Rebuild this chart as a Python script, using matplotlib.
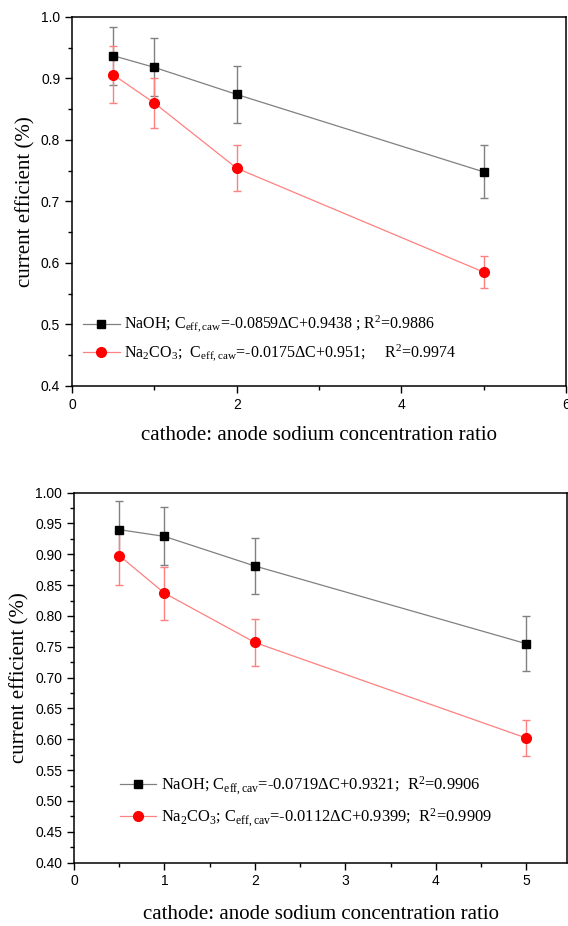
import numpy as np
import matplotlib.pyplot as plt
from matplotlib.ticker import MultipleLocator, FormatStrFormatter

# --- dados ---
ratio = [0.5, 1, 2, 5]

# painel superior
naoh_top = [0.937, 0.918, 0.874, 0.748]
naoh_top_err = [0.047, 0.047, 0.046, 0.043]
na2co3_top = [0.906, 0.860, 0.754, 0.585]
na2co3_top_err = [0.046, 0.041, 0.037, 0.026]

# painel inferior
naoh_bot = [0.940, 0.929, 0.881, 0.755]
naoh_bot_err = [0.047, 0.047, 0.045, 0.045]
na2co3_bot = [0.898, 0.837, 0.757, 0.602]
na2co3_bot_err = [0.047, 0.043, 0.038, 0.029]

labels_top = [
    r"NaOH; C$_{\mathregular{eff,caw}}$=-0.0859ΔC+0.9438 ; R$^{\mathregular{2}}$=0.9886",
    r"Na$_{\mathregular{2}}$CO$_{\mathregular{3}}$;  C$_{\mathregular{eff,caw}}$=-0.0175ΔC+0.951;     R$^{\mathregular{2}}$=0.9974",
]
labels_bot = [
    r"NaOH; C$_{\mathregular{eff,cav}}$=-0.0719ΔC+0.9321;  R$^{\mathregular{2}}$=0.9906",
    r"Na$_{\mathregular{2}}$CO$_{\mathregular{3}}$; C$_{\mathregular{eff,cav}}$=-0.0112ΔC+0.9399;  R$^{\mathregular{2}}$=0.9909",
]

serif = "Liberation Serif"
sans = "Liberation Sans"
plt.rcParams['mathtext.fontset'] = 'custom'
plt.rcParams['mathtext.rm'] = serif
plt.rcParams['mathtext.it'] = serif + ':italic'

fig = plt.figure(figsize=(5.68, 9.26), dpi=100)
ax1 = fig.add_axes([0.1268, 0.5832, 0.870, 0.3985])
ax2 = fig.add_axes([0.1303, 0.0684, 0.868, 0.3996])


def draw(ax, y1, e1, y2, e2):
    c1 = ax.errorbar(ratio, y1, yerr=e1, color='#808080', lw=0.9, ecolor='#808080',
                     elinewidth=1.0, capsize=3, capthick=1.0, marker='s', ms=5.5,
                     mfc='black', mec='black')
    c2 = ax.errorbar(ratio, y2, yerr=e2, color='#ff8080', lw=0.9, ecolor='#ff8080',
                     elinewidth=1.0, capsize=3, capthick=1.0, marker='o', ms=7,
                     mfc='red', mec='red')
    ax.set_ylim(0.4, 1.0)
    ax.tick_params(which='both', direction='out', top=False, right=False)
    ax.tick_params(which='major', length=5, width=1)
    ax.tick_params(which='minor', length=3, width=1)
    for s in ax.spines.values():
        s.set_linewidth(1.1)
    ax.set_ylabel("current efficient (%)", fontfamily=serif, fontsize=15)
    ax.set_xlabel("cathode: anode sodium concentration ratio", fontfamily=serif,
                  fontsize=15)
    return [c1[0], c2[0]]


h = draw(ax1, naoh_top, naoh_top_err, na2co3_top, na2co3_top_err)
ax1.set_xlim(0, 6)
ax1.xaxis.set_major_locator(MultipleLocator(2))
ax1.xaxis.set_minor_locator(MultipleLocator(1))
ax1.yaxis.set_major_locator(MultipleLocator(0.1))
ax1.yaxis.set_minor_locator(MultipleLocator(0.05))
ax1.yaxis.set_major_formatter(FormatStrFormatter('%.1f'))
for t in ax1.get_xticklabels() + ax1.get_yticklabels():
    t.set_fontfamily(sans)
    t.set_fontsize(10)
ax1.legend(h, labels_top, loc='center left', bbox_to_anchor=(0.022, 0.127),
           frameon=False, prop={'family': serif, 'size': 11.5}, handlelength=2.3,
           handletextpad=0.3, labelspacing=0.47, borderpad=0, borderaxespad=0)
ax1.xaxis.labelpad = 10

h = draw(ax2, naoh_bot, naoh_bot_err, na2co3_bot, na2co3_bot_err)
ax2.set_xlim(0, 5.45)
ax2.xaxis.set_major_locator(MultipleLocator(1))
ax2.xaxis.set_minor_locator(MultipleLocator(0.5))
ax2.yaxis.set_major_locator(MultipleLocator(0.05))
ax2.yaxis.set_minor_locator(MultipleLocator(0.025))
ax2.yaxis.set_major_formatter(FormatStrFormatter('%.2f'))
for t in ax2.get_xticklabels() + ax2.get_yticklabels():
    t.set_fontfamily(sans)
    t.set_fontsize(10)
ax2.legend(h, labels_bot, loc='center left', bbox_to_anchor=(0.093, 0.165),
           frameon=False, prop={'family': serif, 'size': 11.9}, handlelength=2.2,
           handletextpad=0.3, labelspacing=0.55, borderpad=0, borderaxespad=0)
ax2.xaxis.labelpad = 12

fig.savefig("out.png", dpi=100)
